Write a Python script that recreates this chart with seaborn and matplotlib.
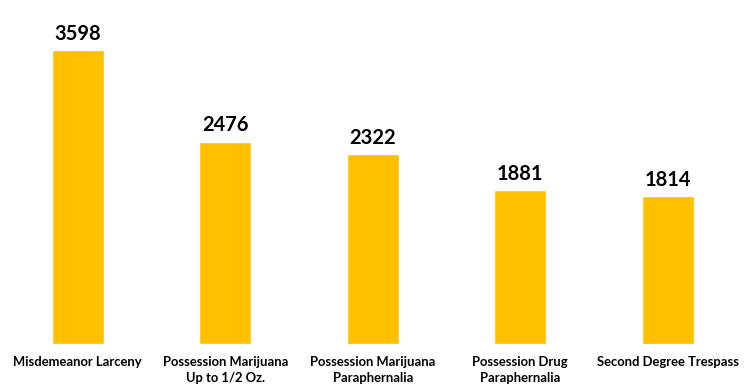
import matplotlib
matplotlib.use("Agg")
import matplotlib.pyplot as plt
import seaborn as sns
import pandas as pd

# data
offenses = ["Misdemeanor Larceny", "Possession Marijuana\nUp to 1/2 Oz.",
            "Possession Marijuana\nParaphernalia", "Possession Drug\nParaphernalia",
            "Second Degree Trespass"]
counts = [3598, 2476, 2322, 1881, 1814]

df = pd.DataFrame({"offense": offenses, "count": counts})

sns.set_style("white")
plt.rcParams["font.family"] = ["Lato", "DejaVu Sans"]

fig = plt.figure(figsize=(7.54, 3.87), dpi=100)
ax = fig.add_axes([4 / 754, 43 / 387, 737.5 / 754, 327 / 387])

sns.barplot(data=df, x="offense", y="count", color="#FFC000", saturation=1,
            width=0.355, ax=ax)

for i, v in enumerate(counts):
    ax.text(i, v + 75, str(v), ha="center", va="bottom",
            fontsize=14.5, fontweight="bold", color="black")

ax.set_xlim(-0.5, 4.5)
ax.set_ylim(0, 4000)
ax.set_xlabel("")
ax.set_ylabel("")
ax.set_yticks([])
ax.tick_params(axis="x", length=0, pad=9)
for lbl in ax.get_xticklabels():
    lbl.set_fontsize(9.4)
    lbl.set_fontweight("bold")
    lbl.set_color("black")
    lbl.set_linespacing(1.35)
sns.despine(ax=ax, left=True, bottom=True, top=True, right=True)

fig.savefig("out.png", dpi=100)
